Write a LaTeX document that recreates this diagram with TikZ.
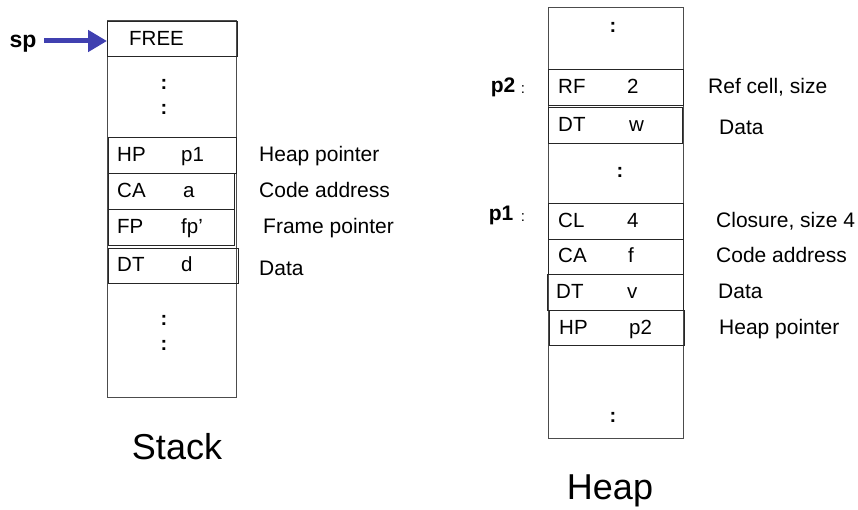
\documentclass[tikz,border=0pt]{standalone}
\usepackage{fontspec}
\setmainfont{Liberation Sans}
\usetikzlibrary{positioning}
\usetikzlibrary{arrows.meta}

\definecolor{spblue}{RGB}{64,64,176}

\tikzset{
  cell/.style={draw=black!85, line width=1pt, anchor=north west, inner sep=0pt,
               minimum width=#1, minimum height=36pt},
  cell/.default=128pt,
  tag/.style={anchor=west, inner sep=0pt, text height=15pt, text depth=3pt,
              font=\fontsize{20.5}{24}\selectfont},
  note/.style={anchor=west, inner sep=0pt, text height=15pt, text depth=3pt,
               font=\fontsize{21}{24}\selectfont},
  dots/.style={inner sep=0pt, font=\fontsize{20}{22}\selectfont\bfseries},
  ptr/.style={inner sep=0pt, font=\fontsize{21}{24}\selectfont\bfseries},
  title/.style={inner sep=0pt, font=\fontsize{36}{40}\selectfont},
}

\begin{document}
\begin{tikzpicture}[x=1pt, y=-1pt]
  \useasboundingbox (0,0) rectangle (858,510);

  % ---------- stack ----------
  \draw[black!70, line width=1pt] (107,21) rectangle (236,397);
  \node[cell=130pt, minimum height=35pt] (free) at (107,21) {};
  \node[tag] (freetxt) at (129,40) {FREE};

  \node[dots] (sd1) at (164,84) {:};
  \node[dots] (sd2) at (164,109) {:};

  \node[cell] (shp) at (108,137) {};
  \node[tag, right=9pt of shp.west] (shpt) {HP};
  \node[tag, right=73pt of shp.west] (shpv) {p1};
  \node[note, right=22pt of shp.east] (shpn) {Heap pointer};

  \node[cell=126pt] (sca) at (108,173) {};
  \node[tag, right=9pt of sca.west] (scat) {CA};
  \node[tag, right=75pt of sca.west] (scav) {a};
  \node[note, right=24pt of sca.east] (scan) {Code address};

  \node[cell=126pt] (sfp) at (108,209) {};
  \node[tag, right=9pt of sfp.west] (sfpt) {FP};
  \node[tag, right=73pt of sfp.west] (sfpv) {fp’};
  \node[note, right=28pt of sfp.east] (sfpn) {Frame pointer};

  \node[cell=130pt, minimum height=35pt] (sdt) at (108,248) {};
  \node[tag, right=9pt of sdt.west] (sdtt) {DT};
  \node[tag, right=73pt of sdt.west] (sdtv) {d};
  \node[note, right=20pt of sdt.east, yshift=-4pt] (sdtn) {Data};

  \node[dots] (sd3) at (164,320) {:};
  \node[dots] (sd4) at (164,345) {:};

  \node[title] (stack) at (177,447) {Stack};

  % stack pointer
  \node[ptr, font=\fontsize{23}{26}\selectfont\bfseries] (sp) at (23,44) {sp};
  \coordinate (sptail) at (44,41);
  \draw[spblue, line width=5pt, -{Triangle[length=19pt,width=21pt]}]
    (sptail) -- (sptail -| free.west);

  % ---------- heap ----------
  \draw[black!70, line width=1pt] (548,8) rectangle (683,438);
  \node[dots] (hd1) at (613,27) {:};

  \node[cell=135pt] (hrf) at (548,69) {};
  \node[tag, right=10pt of hrf.west] (hrft) {RF};
  \node[tag, right=79pt of hrf.west] (hrfv) {2};
  \node[note, right=24pt of hrf.east] (hrfn) {Ref cell, size};

  \node[cell=134pt] (hdw) at (548,107) {};
  \node[tag, right=10pt of hdw.west] (hdwt) {DT};
  \node[tag, right=81pt of hdw.west] (hdwv) {w};
  \node[note, right=36pt of hdw.east, yshift=-3pt] (hdwn) {Data};

  \node[dots] (hd2) at (620,172) {:};

  \node[cell=135pt] (hcl) at (548,203) {};
  \node[tag, right=10pt of hcl.west] (hclt) {CL};
  \node[tag, right=79pt of hcl.west] (hclv) {4};
  \node[note, right=32pt of hcl.east] (hcln) {Closure, size 4};

  \node[cell=135pt, minimum height=35pt] (hca) at (548,239) {};
  \node[tag, right=10pt of hca.west] (hcat) {CA};
  \node[tag, right=80pt of hca.west] (hcav) {f};
  \node[note, right=32pt of hca.east] (hcan) {Code address};

  \node[cell=136pt] (hdv) at (547,274) {};
  \node[tag, right=9pt of hdv.west] (hdvt) {DT};
  \node[tag, right=80pt of hdv.west] (hdvv) {v};
  \node[note, right=34pt of hdv.east] (hdvn) {Data};

  \node[cell=135pt, minimum height=35pt] (hhp) at (549,310) {};
  \node[tag, right=10pt of hhp.west] (hhpt) {HP};
  \node[tag, right=80pt of hhp.west] (hhpv) {p2};
  \node[note, right=34pt of hhp.east] (hhpn) {Heap pointer};

  \node[dots] (hd3) at (613,417) {:};

  \node[title] (heap) at (610,491) {Heap};

  % addresses of the two heap blocks
  \node[ptr] (p2) at (503,87) {p2};
  \node[inner sep=0pt, font=\fontsize{15}{18}\selectfont] (p2c) at (523,90) {:};
  \node[ptr] (p1) at (501,215) {p1};
  \node[inner sep=0pt, font=\fontsize{15}{18}\selectfont] (p1c) at (523,218) {:};
\end{tikzpicture}
\end{document}
